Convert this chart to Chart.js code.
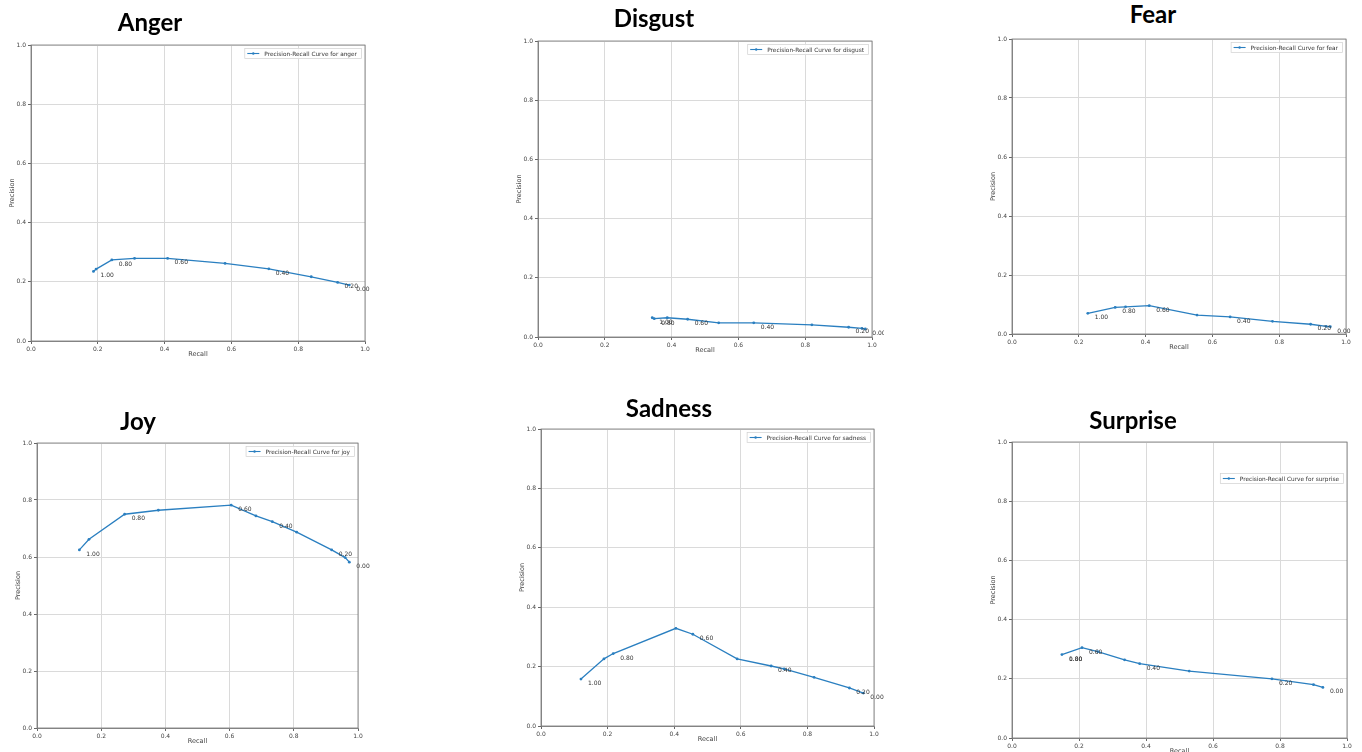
<!DOCTYPE html>
<html>
<head>
<meta charset="utf-8">
<script src="https://cdn.jsdelivr.net/npm/chart.js@4.4.1/dist/chart.umd.min.js"></script>
<style>
  body { margin: 0; background: #fff; width: 1362px; height: 752px; position: relative; overflow: hidden; }
  canvas { position: absolute; }
  .titre { position: absolute; font-family: Lato, "Open Sans", sans-serif; font-weight: bold; font-size: 24px;
           line-height: 1; white-space: nowrap; color: #000; transform: translate(-50%, -50%); }
</style>
</head>
<body>
<script>
// Axes communs
const tickValues = [0, 0.2, 0.4, 0.6, 0.8, 1.0];
const tickLabels = ['0.0', '0.2', '0.4', '0.6', '0.8', '1.0'];

// Anger
const angerRecall    = [0.187, 0.195, 0.242, 0.310, 0.409, 0.581, 0.712, 0.839, 0.918, 0.953];
const angerPrecision = [0.235, 0.243, 0.274, 0.279, 0.279, 0.262, 0.244, 0.217, 0.198, 0.189];
const angerAnnIndex  = [0, 2, 4, 6, 8, 9];
const angerAnnText   = ['1.00', '0.80', '0.60', '0.40', '0.20', '0.00'];

// Disgust
const disgustRecall    = [0.342, 0.348, 0.387, 0.448, 0.541, 0.646, 0.820, 0.930, 0.970, 0.980];
const disgustPrecision = [0.065, 0.062, 0.065, 0.060, 0.048, 0.048, 0.041, 0.033, 0.029, 0.027];
const disgustAnnIndex  = [0, 1, 3, 5, 7, 9];
const disgustAnnText   = ['1.00', '0.80', '0.60', '0.40', '0.20', '0.00'];

// Fear
const fearRecall    = [0.227, 0.309, 0.340, 0.411, 0.554, 0.653, 0.780, 0.894, 0.941, 0.953];
const fearPrecision = [0.070, 0.090, 0.092, 0.096, 0.064, 0.058, 0.043, 0.033, 0.026, 0.025];
const fearAnnIndex  = [0, 1, 3, 5, 7, 9];
const fearAnnText   = ['1.00', '0.80', '0.60', '0.40', '0.20', '0.00'];

// Joy
const joyRecall    = [0.132, 0.162, 0.273, 0.378, 0.605, 0.682, 0.733, 0.809, 0.918, 0.960, 0.973];
const joyPrecision = [0.625, 0.662, 0.750, 0.764, 0.782, 0.744, 0.724, 0.687, 0.625, 0.598, 0.582];
const joyAnnIndex  = [0, 2, 4, 6, 8, 10];
const joyAnnText   = ['1.00', '0.80', '0.60', '0.40', '0.20', '0.00'];

// Sadness
const sadnessRecall    = [0.120, 0.189, 0.217, 0.405, 0.456, 0.589, 0.691, 0.730, 0.820, 0.926, 0.968];
const sadnessPrecision = [0.158, 0.226, 0.244, 0.329, 0.309, 0.226, 0.202, 0.192, 0.164, 0.128, 0.111];
const sadnessAnnIndex  = [0, 2, 4, 6, 9, 10];
const sadnessAnnText   = ['1.00', '0.80', '0.60', '0.40', '0.20', '0.00'];

// Surprise
const surpriseRecall    = [0.149, 0.209, 0.256, 0.336, 0.381, 0.529, 0.776, 0.900, 0.928];
const surprisePrecision = [0.282, 0.305, 0.292, 0.264, 0.251, 0.226, 0.200, 0.180, 0.171];
const surpriseAnnIndex  = [0, 0, 1, 4, 6, 8];
const surpriseAnnText   = ['1.00', '0.80', '0.60', '0.40', '0.20', '0.00'];

// Position des panneaux (zone du graphique en pixels de la page)
const panels = [
  { name: 'anger',    title: 'Anger',    recall: angerRecall,    precision: angerPrecision,    annIndex: angerAnnIndex,    annText: angerAnnText,
    l: 31,   t: 45,  r: 365,  b: 341, tx: 150,  ty: 22,  legendDy: 0 },
  { name: 'disgust',  title: 'Disgust',  recall: disgustRecall,  precision: disgustPrecision,  annIndex: disgustAnnIndex,  annText: disgustAnnText,
    l: 538,  t: 41,  r: 872,  b: 337, tx: 654,  ty: 18,  legendDy: 0 },
  { name: 'fear',     title: 'Fear',     recall: fearRecall,     precision: fearPrecision,     annIndex: fearAnnIndex,     annText: fearAnnText,
    l: 1012, t: 39,  r: 1346, b: 334, tx: 1153, ty: 14,  legendDy: 0 },
  { name: 'joy',      title: 'Joy',      recall: joyRecall,      precision: joyPrecision,      annIndex: joyAnnIndex,      annText: joyAnnText,
    l: 37,   t: 443, r: 358,  b: 728, tx: 138,  ty: 421, legendDy: 0 },
  { name: 'sadness',  title: 'Sadness',  recall: sadnessRecall,  precision: sadnessPrecision,  annIndex: sadnessAnnIndex,  annText: sadnessAnnText,
    l: 541,  t: 429, r: 874,  b: 726, tx: 669,  ty: 408, legendDy: 0 },
  { name: 'surprise', title: 'Surprise', recall: surpriseRecall, precision: surprisePrecision, annIndex: surpriseAnnIndex, annText: surpriseAnnText,
    l: 1012, t: 442, r: 1347, b: 738, tx: 1133, ty: 420, legendDy: 28 }
];

const BLEU = '#2a7fc0';
const POLICE = '"DejaVu Sans", sans-serif';
const GAUCHE = 26, HAUT = 10, DROITE = 12, BAS = 20;

// Annotations, cadre et légende dessinés par-dessus
function makeDecor(p) {
  return {
    id: 'decor_' + p.name,
    afterDatasetsDraw(chart) {
      const ctx = chart.ctx;
      const area = chart.chartArea;
      const meta = chart.getDatasetMeta(0);
      ctx.save();

      // seuils
      ctx.font = '6px ' + POLICE;
      ctx.fillStyle = '#333';
      ctx.textAlign = 'left';
      ctx.textBaseline = 'alphabetic';
      p.annIndex.forEach((idx, i) => {
        const pt = meta.data[idx];
        ctx.fillText(p.annText[i], pt.x + 7, pt.y + 6);
      });

      // cadre
      ctx.strokeStyle = '#777';
      ctx.lineWidth = 0.8;
      ctx.strokeRect(area.left, area.top, area.right - area.left, area.bottom - area.top);

      // légende
      const label = chart.data.datasets[0].label;
      ctx.font = '5.8px ' + POLICE;
      const tw = ctx.measureText(label).width;
      const bw = tw + 25, bh = 11;
      const bx = area.right - 3 - bw, by = area.top + 3 + p.legendDy;
      ctx.fillStyle = 'rgba(255,255,255,0.85)';
      ctx.fillRect(bx, by, bw, bh);
      ctx.strokeStyle = '#d0d0d0';
      ctx.lineWidth = 0.7;
      ctx.strokeRect(bx + 0.5, by + 0.5, bw - 1, bh - 1);
      ctx.strokeStyle = BLEU;
      ctx.lineWidth = 1.1;
      ctx.beginPath();
      ctx.moveTo(bx + 3, by + bh / 2);
      ctx.lineTo(bx + 15, by + bh / 2);
      ctx.stroke();
      ctx.fillStyle = BLEU;
      ctx.beginPath();
      ctx.arc(bx + 9, by + bh / 2, 1.2, 0, Math.PI * 2);
      ctx.fill();
      ctx.fillStyle = '#333';
      ctx.textBaseline = 'middle';
      ctx.fillText(label, bx + 20, by + bh / 2 + 0.5);

      ctx.restore();
    }
  };
}

function axisOptions(titleText, isX) {
  return {
    type: 'linear',
    min: 0,
    max: 1,
    afterBuildTicks: axis => { axis.ticks = tickValues.map(v => ({ value: v })); },
    afterFit: axis => {
      if (isX) axis.height = BAS; else axis.width = GAUCHE;
    },
    grid: { color: '#dadada', lineWidth: 1, tickLength: 3, tickColor: '#666' },
    border: { display: true, color: '#777', width: 0.8 },
    ticks: {
      padding: 2,
      color: '#444',
      font: { family: POLICE, size: 6 },
      maxRotation: 0,
      autoSkip: false,
      callback: (value, i) => tickLabels[i]
    },
    title: {
      display: true,
      text: titleText,
      color: '#444',
      font: { family: POLICE, size: 6.5 },
      padding: { top: 3, bottom: 3 }
    }
  };
}

panels.forEach(p => {
  const w = (p.r - p.l) + GAUCHE + DROITE;
  const h = (p.b - p.t) + HAUT + BAS;

  const canvas = document.createElement('canvas');
  canvas.width = w;
  canvas.height = h;
  canvas.style.left = (p.l - GAUCHE) + 'px';
  canvas.style.top = (p.t - HAUT) + 'px';
  canvas.style.width = w + 'px';
  canvas.style.height = h + 'px';
  document.body.appendChild(canvas);

  const titre = document.createElement('div');
  titre.className = 'titre';
  titre.textContent = p.title;
  titre.style.left = p.tx + 'px';
  titre.style.top = p.ty + 'px';
  document.body.appendChild(titre);

  new Chart(canvas.getContext('2d'), {
    type: 'line',
    data: {
      datasets: [{
        label: 'Precision-Recall Curve for ' + p.name,
        data: p.recall.map((r, i) => ({ x: r, y: p.precision[i] })),
        borderColor: BLEU,
        backgroundColor: BLEU,
        borderWidth: 1.3,
        pointRadius: 1.4,
        pointBackgroundColor: BLEU,
        pointBorderWidth: 0,
        tension: 0,
        fill: false
      }]
    },
    options: {
      responsive: false,
      animation: false,
      devicePixelRatio: 1,
      layout: { padding: { left: 0, top: HAUT, right: DROITE, bottom: 0 } },
      scales: {
        x: axisOptions('Recall', true),
        y: axisOptions('Precision', false)
      },
      plugins: {
        legend: { display: false },
        tooltip: { enabled: false }
      }
    },
    plugins: [makeDecor(p)]
  });
});
</script>
</body>
</html>
